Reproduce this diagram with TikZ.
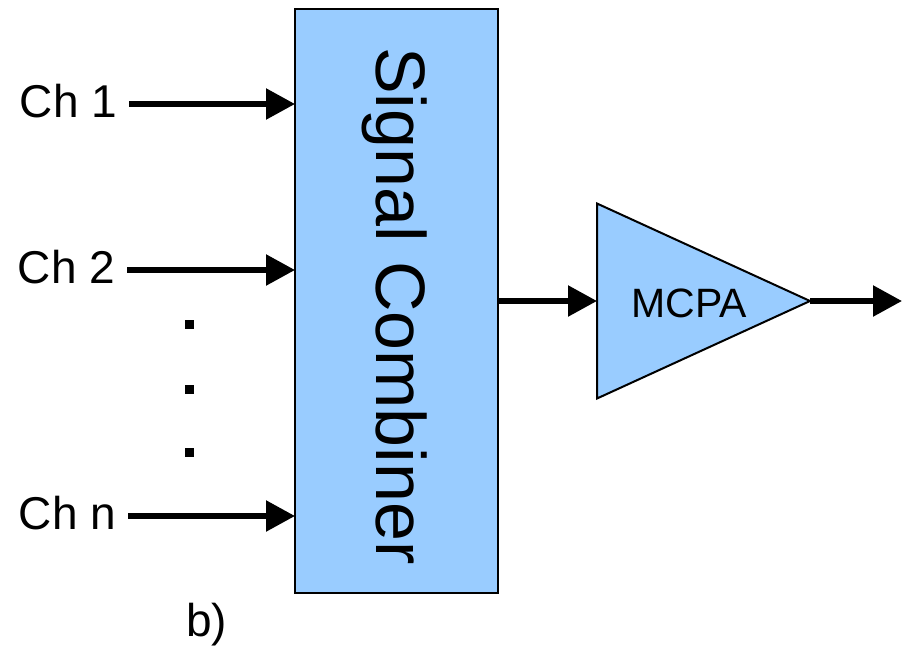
\documentclass[tikz,border=0pt]{standalone}
\usepackage{fontspec}
\setmainfont{Liberation Sans}
\usetikzlibrary{arrows.meta,shapes.geometric}
\definecolor{boxblue}{HTML}{99CCFF}
\begin{document}
\begin{tikzpicture}[x=1pt,y=-1pt,
  blockstyle/.style={draw=black,line width=2pt,fill=boxblue},
  chlabel/.style={anchor=east,inner xsep=12pt,inner ysep=0pt,outer sep=0pt,
    text height=33pt,text depth=7pt,font=\fontsize{46}{46}\selectfont},
  sigarrow/.style={line width=5.5pt,-{Triangle[length=29pt,width=30pt]}},
  dotmark/.style={fill=black}]
\useasboundingbox (0,0) rectangle (904,646);
% combiner block
\node[blockstyle,minimum width=203pt,minimum height=584pt,inner sep=0pt,outer sep=0pt,anchor=north west] (comb) at (295,9) {};
\node[anchor=base,rotate=-90,inner sep=0pt,font=\fontsize{70}{70}\selectfont] (combtxt) at (376,306) {Signal Combiner};
% amplifier
\node[blockstyle,isosceles triangle,isosceles triangle stretches,shape border rotate=0,
  minimum width=195pt,minimum height=213pt,inner sep=0pt,outer sep=0pt,anchor=west] (amp) at (597,301) {};
\node[anchor=base,inner sep=0pt,font=\fontsize{41}{41}\selectfont] (amptxt) at (689,317) {MCPA};
\coordinate (out) at (902,301);
% channel labels
\node[chlabel] (c1) at (129,104) {Ch 1};
\node[chlabel] (c2) at (127,270) {Ch 2};
\node[chlabel] (cn) at (128,516) {Ch n};
% arrows
\draw[sigarrow] (c1.east) -- (comb.west |- c1.east);
\draw[sigarrow] (c2.east) -- (comb.west |- c2.east);
\draw[sigarrow] (cn.east) -- (comb.west |- cn.east);
\draw[sigarrow] (comb.east |- amp.west) -- (amp.west);
\draw[sigarrow] (amp.apex) -- (out);
% dots
\fill[dotmark] (185,320) rectangle (194,329);
\fill[dotmark] (185,385) rectangle (194,394);
\fill[dotmark] (185,448) rectangle (194,457);
% caption
\node[anchor=base west,inner sep=0pt,font=\fontsize{46}{46}\selectfont] (cap) at (186,636) {b)};
\end{tikzpicture}
\end{document}
